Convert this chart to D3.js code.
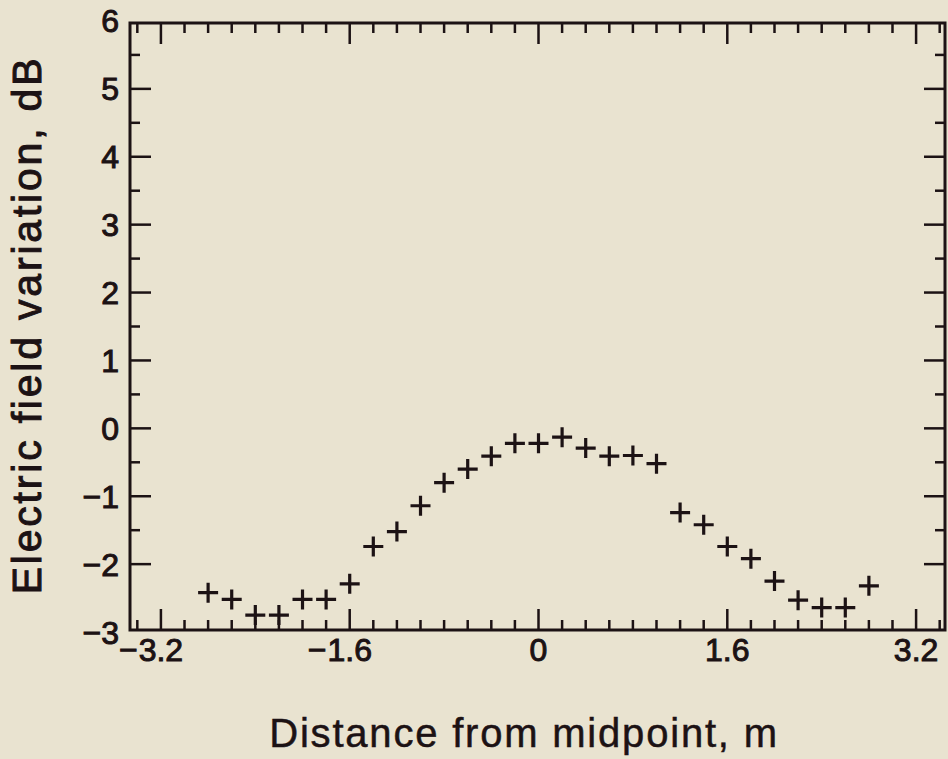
<!DOCTYPE html>
<html>
<head>
<meta charset="utf-8">
<script src="https://cdn.jsdelivr.net/npm/d3@7"></script>
<style>
  html, body { margin: 0; padding: 0; background: #e9e3d0; }
  svg { display: block; }
  text { font-family: "Liberation Sans", Arial, Helvetica, sans-serif; fill: #1c1214; }
</style>
</head>
<body>
<div id="chart"></div>
<script>
// distance from midpoint, m
const distance = [-2.8, -2.6, -2.4, -2.2, -2.0, -1.8, -1.6, -1.4, -1.2, -1.0,
                  -0.8, -0.6, -0.4, -0.2, 0.0, 0.2, 0.4, 0.6, 0.8, 1.0,
                  1.2, 1.4, 1.6, 1.8, 2.0, 2.2, 2.4, 2.6, 2.8];
// electric field variation, dB
const variation = [-2.42, -2.52, -2.75, -2.75, -2.52, -2.52, -2.29, -1.74, -1.52, -1.14,
                   -0.80, -0.60, -0.41, -0.22, -0.22, -0.13, -0.29, -0.41, -0.40, -0.52,
                   -1.24, -1.42, -1.74, -1.92, -2.25, -2.53, -2.64, -2.64, -2.32];
const xTickLabels = [-3.2, -1.6, 0, 1.6, 3.2];
const yTickLabels = [-3, -2, -1, 0, 1, 2, 3, 4, 5, 6];

const width = 948, height = 759;
const ink = '#1c1214';
const box = {left: 130, right: 945, top: 23, bottom: 630};

const x = d3.scaleLinear().domain([-3.462, 3.445]).range([box.left, box.right]);
const y = d3.scaleLinear().domain([-2.97, 5.97]).range([box.bottom, box.top]);

const svg = d3.select('#chart').append('svg')
    .attr('width', width)
    .attr('height', height);

svg.append('rect')
    .attr('width', width)
    .attr('height', height)
    .style('fill', '#e9e3d0');

// tick marks, all pointing inward
const xMinor = d3.range(-17, 18).map(i => i * 0.2);
const yMinor = d3.range(-5, 12).map(i => i * 0.5 + 0.5);
const isMajorX = v => Math.abs(v / 1.6 - Math.round(v / 1.6)) < 1e-6;
const isMajorY = v => Math.abs(v - Math.round(v)) < 1e-6;
const bigTick = 21, smallTick = 10;

const ticks = svg.append('g')
    .style('stroke', ink)
    .style('stroke-width', 2.5);

xMinor.forEach(v => {
    const len = isMajorX(v) ? bigTick : smallTick;
    ticks.append('line')
        .attr('x1', x(v)).attr('x2', x(v))
        .attr('y1', box.bottom).attr('y2', box.bottom - len);
    ticks.append('line')
        .attr('x1', x(v)).attr('x2', x(v))
        .attr('y1', box.top).attr('y2', box.top + len);
});

yMinor.filter(v => v > -3 && v < 6).forEach(v => {
    const len = isMajorY(v) ? bigTick : smallTick;
    ticks.append('line')
        .attr('x1', box.left).attr('x2', box.left + len)
        .attr('y1', y(v)).attr('y2', y(v));
    ticks.append('line')
        .attr('x1', box.right).attr('x2', box.right - len)
        .attr('y1', y(v)).attr('y2', y(v));
});

// frame
svg.append('rect')
    .attr('x', box.left)
    .attr('y', box.top)
    .attr('width', box.right - box.left)
    .attr('height', box.bottom - box.top)
    .style('fill', 'none')
    .style('stroke', ink)
    .style('stroke-width', 3);

// x tick labels: digits centred on the tick, minus sign hangs to the left
const labelStyle = sel => sel
    .style('font-size', '32px')
    .style('stroke', ink)
    .style('stroke-width', 1);

xTickLabels.forEach(v => {
    const mag = svg.append('text')
        .attr('x', x(v))
        .attr('y', 661)
        .attr('text-anchor', 'middle')
        .text(d3.format('.1~f')(Math.abs(v)))
        .call(labelStyle);
    if (v < 0) {
        const w = mag.node().getComputedTextLength();
        svg.append('text')
            .attr('x', x(v) - w / 2 - 1)
            .attr('y', 661)
            .attr('text-anchor', 'end')
            .text('\u2212')
            .call(labelStyle);
    }
});

yTickLabels.forEach(v => {
    svg.append('text')
        .attr('x', 119)
        .attr('y', y(v))
        .attr('dy', '0.36em')
        .attr('text-anchor', 'end')
        .text(v < 0 ? '\u2212' + Math.abs(v) : v)
        .call(labelStyle);
});

// axis titles
svg.append('text')
    .attr('x', 524)
    .attr('y', 747)
    .attr('text-anchor', 'middle')
    .style('font-size', '40px')
    .style('letter-spacing', '1.8px')
    .style('stroke', ink)
    .style('stroke-width', 0.5)
    .text('Distance from midpoint, m');

svg.append('text')
    .attr('transform', 'translate(41,325) rotate(-90)')
    .attr('text-anchor', 'middle')
    .style('font-size', '41px')
    .style('letter-spacing', '2.8px')
    .style('stroke', ink)
    .style('stroke-width', 1)
    .text('Electric field variation, dB');

// data: plus markers
const arm = 10;
const marks = svg.append('g')
    .style('stroke', ink)
    .style('stroke-width', 3.2)
    .style('fill', 'none');

marks.selectAll('path')
    .data(distance.map((d, i) => [d, variation[i]]))
    .join('path')
    .attr('d', d => {
        const cx = x(d[0]), cy = y(d[1]);
        return `M${cx - arm},${cy}H${cx + arm}M${cx},${cy - arm}V${cy + arm}`;
    });
</script>
</body>
</html>
